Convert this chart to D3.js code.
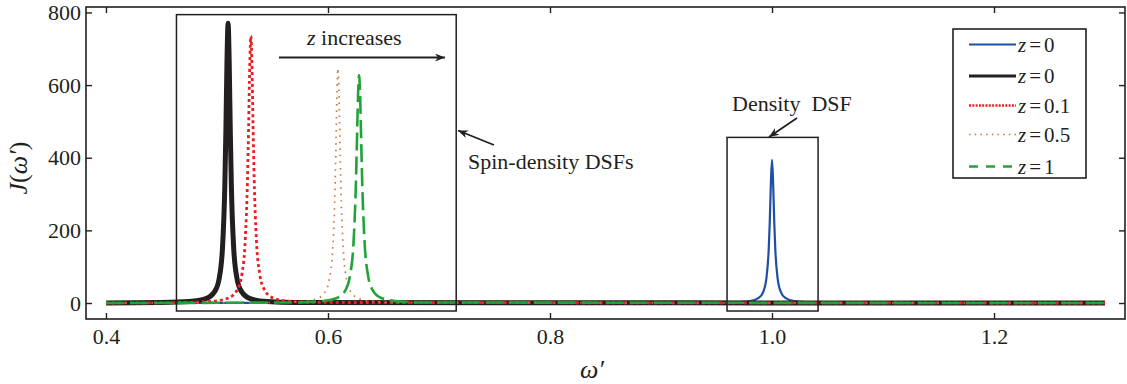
<!DOCTYPE html>
<html>
<head>
<meta charset="utf-8">
<script src="https://cdn.jsdelivr.net/npm/d3@7"></script>
<style>
  body { margin: 0; background: #fff; }
  svg text { fill: #231f20; }
</style>
</head>
<body>
<svg id="chart" width="1127" height="384"></svg>
<script>
// ----------------------
// data: [omega', J]
// ----------------------
const densityZ0 = [[0.4,0],[0.94,0.6],[0.965,1.7],[0.98,5.1],[0.988,14],[0.992,30],[0.995,69],[0.997,146],[0.998,224],[0.999,331],[1.0,394],[1.001,331],[1.002,224],[1.003,146],[1.005,69],[1.008,30],[1.012,14],[1.02,5.1],[1.035,1.7],[1.06,0.6],[1.3,0]];
const spinZ0 = [[0.4,0],[0.45,1.3],[0.475,3.9],[0.49,12],[0.498,32],[0.502,68],[0.505,154],[0.507,316],[0.508,470],[0.509,664],[0.51,770],[0.511,664],[0.512,470],[0.513,316],[0.515,154],[0.518,68],[0.522,32],[0.53,12],[0.545,3.9],[0.57,1.3],[1.3,0]];
const spinZ01 = [[0.4,0],[0.4705,1.6],[0.4955,4.7],[0.5105,14],[0.5185,38],[0.5225,80],[0.5255,175],[0.5275,342],[0.5285,487],[0.5295,652],[0.5305,735],[0.5315,652],[0.5325,487],[0.5335,342],[0.5355,175],[0.5385,80],[0.5425,38],[0.5505,14],[0.5655,4.7],[0.5905,1.6],[1.3,0]];
const spinZ05 = [[0.4,0],[0.549,1.2],[0.574,3.5],[0.589,10.7],[0.597,29],[0.601,62],[0.604,137],[0.606,277],[0.607,406],[0.608,563],[0.609,646],[0.61,563],[0.611,406],[0.612,277],[0.614,137],[0.617,62],[0.621,29],[0.629,10.7],[0.644,3.5],[0.669,1.2],[1.3,0]];
const spinZ1 = [[0.4,0],[0.568,1.6],[0.593,4.6],[0.608,13.8],[0.616,37],[0.62,77],[0.623,166],[0.625,314],[0.626,434],[0.627,564],[0.628,627],[0.629,564],[0.63,434],[0.631,314],[0.633,166],[0.636,77],[0.64,37],[0.648,13.8],[0.663,4.6],[0.688,1.6],[1.3,0]];

const legendLabels = ["0", "0", "0.1", "0.5", "1"];
const xTicks = [0.4, 0.6, 0.8, 1.0, 1.2];
const yTicks = [0, 200, 400, 600, 800];

// ----------------------
// layout
// ----------------------
const svg = d3.select("#chart");
const ink = "#231f20";
const serif = "Liberation Serif";
const plot = { left: 86, right: 1125, top: 7, bottom: 319 };

const x = d3.scaleLinear().domain([0.382, 1.318]).range([plot.left, plot.right]);
const y = d3.scaleLinear().domain([-44, 815]).range([plot.bottom, plot.top]);

// series styles (same order as legend)
const series = [
  { data: densityZ0, color: "#1d4fa6", width: 2.2, dash: null,    lw: 2.2, ldash: null },
  { data: spinZ0,    color: ink,       width: 5,   dash: null,    lw: 2.8, ldash: null },
  { data: spinZ01,   color: "#ee1c24", width: 2.8, dash: "3,3",   lw: 2.4, ldash: "2,1.3" },
  { data: spinZ05,   color: "#c8763c", width: 1.7, dash: "1.5,5", lw: 1.7, ldash: "1.5,4.2" },
  { data: spinZ1,    color: "#22a33a", width: 2.6, dash: "18,6",  lw: 2.6, ldash: "9,8" }
];

const defs = svg.append("defs");
defs.append("clipPath").attr("id", "clip")
  .append("rect")
  .attr("x", plot.left).attr("y", plot.top)
  .attr("width", plot.right - plot.left).attr("height", plot.bottom - plot.top);

const marker = defs.append("marker")
  .attr("id", "arrow")
  .attr("markerUnits", "userSpaceOnUse")
  .attr("viewBox", "0 0 10 8")
  .attr("refX", 10).attr("refY", 4)
  .attr("markerWidth", 11).attr("markerHeight", 8)
  .attr("orient", "auto");
marker.append("path").attr("d", "M0,0 L10,4 L0,8 L3,4 Z").attr("fill", ink);

// ----------------------
// curves
// ----------------------
const lineGen = d3.line()
  .x(d => x(d[0]))
  .y(d => y(d[1]))
  .curve(d3.curveMonotoneX);

const curves = svg.append("g").attr("clip-path", "url(#clip)");
series.forEach(s => {
  curves.append("path")
    .datum(s.data)
    .attr("fill", "none")
    .attr("stroke", s.color)
    .attr("stroke-width", s.width)
    .attr("stroke-dasharray", s.dash)
    .attr("stroke-linejoin", "round")
    .attr("d", lineGen);
});

// ----------------------
// axes (ticks inside, box on)
// ----------------------
const axisStyle = g => {
  g.attr("font-family", serif).attr("font-size", 22);
  g.select(".domain").remove();
  g.selectAll(".tick line").attr("stroke", ink).attr("stroke-width", 1.4);
  g.selectAll(".tick text").attr("fill", ink);
};

svg.append("g")
  .attr("transform", `translate(0,${plot.bottom})`)
  .call(d3.axisBottom(x).tickValues(xTicks).tickFormat(d3.format(".1f")).tickSize(-6).tickPadding(9))
  .call(axisStyle);

svg.append("g")
  .attr("transform", `translate(0,${plot.top})`)
  .call(d3.axisTop(x).tickValues(xTicks).tickFormat("").tickSize(-6))
  .call(axisStyle);

svg.append("g")
  .attr("transform", `translate(${plot.left},0)`)
  .call(d3.axisLeft(y).tickValues(yTicks).tickSize(-6).tickPadding(5))
  .call(axisStyle);

svg.append("g")
  .attr("transform", `translate(${plot.right},0)`)
  .call(d3.axisRight(y).tickValues(yTicks).tickFormat("").tickSize(-6))
  .call(axisStyle);

svg.append("rect")
  .attr("x", plot.left).attr("y", plot.top)
  .attr("width", plot.right - plot.left).attr("height", plot.bottom - plot.top)
  .attr("fill", "none").attr("stroke", ink).attr("stroke-width", 1.6);

// axis labels
svg.append("text")
  .attr("x", 592).attr("y", 378)
  .attr("text-anchor", "middle")
  .attr("font-family", serif)
  .attr("font-size", 26).attr("font-style", "italic")
  .text("ω′");

svg.append("text")
  .attr("transform", "translate(27,168) rotate(-90)")
  .attr("text-anchor", "middle")
  .attr("font-family", serif)
  .attr("font-size", 26)
  .call(t => {
    t.append("tspan").attr("font-style", "italic").text("J");
    t.append("tspan").text("(");
    t.append("tspan").attr("font-style", "italic").text("ω′");
    t.append("tspan").text(")");
  });

// ----------------------
// annotation boxes + arrows
// ----------------------
svg.append("rect")
  .attr("x", x(0.4635)).attr("y", y(794))
  .attr("width", x(0.7155) - x(0.4635)).attr("height", y(-22) - y(794))
  .attr("fill", "none").attr("stroke", ink).attr("stroke-width", 1.5);

svg.append("rect")
  .attr("x", x(0.9595)).attr("y", y(456))
  .attr("width", x(1.0415) - x(0.9595)).attr("height", y(-22) - y(456))
  .attr("fill", "none").attr("stroke", ink).attr("stroke-width", 1.5);

const arrow = (x1, y1, x2, y2) => svg.append("line")
  .attr("x1", x1).attr("y1", y1).attr("x2", x2).attr("y2", y2)
  .attr("stroke", ink).attr("stroke-width", 1.8)
  .attr("marker-end", "url(#arrow)");

arrow(279, 57.5, 445, 57.5);
arrow(494, 145, 458, 130.5);
arrow(797, 118, 769, 137);

svg.append("text")
  .attr("x", 307).attr("y", 45)
  .attr("font-family", serif)
  .attr("font-size", 22)
  .call(t => {
    t.append("tspan").attr("font-style", "italic").text("z");
    t.append("tspan").text(" increases");
  });

svg.append("text")
  .attr("x", 468).attr("y", 169)
  .attr("font-family", serif)
  .attr("font-size", 22)
  .text("Spin-density DSFs");

svg.append("text")
  .attr("x", 732).attr("y", 111)
  .attr("font-family", serif)
  .attr("font-size", 22)
  .style("white-space", "pre")
  .text("Density  DSF");

// ----------------------
// legend
// ----------------------
svg.append("rect")
  .attr("x", 953).attr("y", 29).attr("width", 133).attr("height", 149)
  .attr("fill", "#fff").attr("stroke", ink).attr("stroke-width", 1.6);

const legendY = [44.5, 76, 105.5, 134.5, 166.5];
series.forEach((s, i) => {
  svg.append("line")
    .attr("x1", 969).attr("x2", 1016)
    .attr("y1", legendY[i]).attr("y2", legendY[i])
    .attr("stroke", s.color)
    .attr("stroke-width", s.lw)
    .attr("stroke-dasharray", s.ldash);
  svg.append("text")
    .attr("x", 1018).attr("y", legendY[i] + 7)
    .attr("font-family", serif)
    .attr("font-size", 21)
    .call(t => {
      t.append("tspan").attr("font-style", "italic").text("z");
      t.append("tspan").attr("dx", 3).text("=");
      t.append("tspan").attr("dx", 3).text(legendLabels[i]);
    });
});
</script>
</body>
</html>
